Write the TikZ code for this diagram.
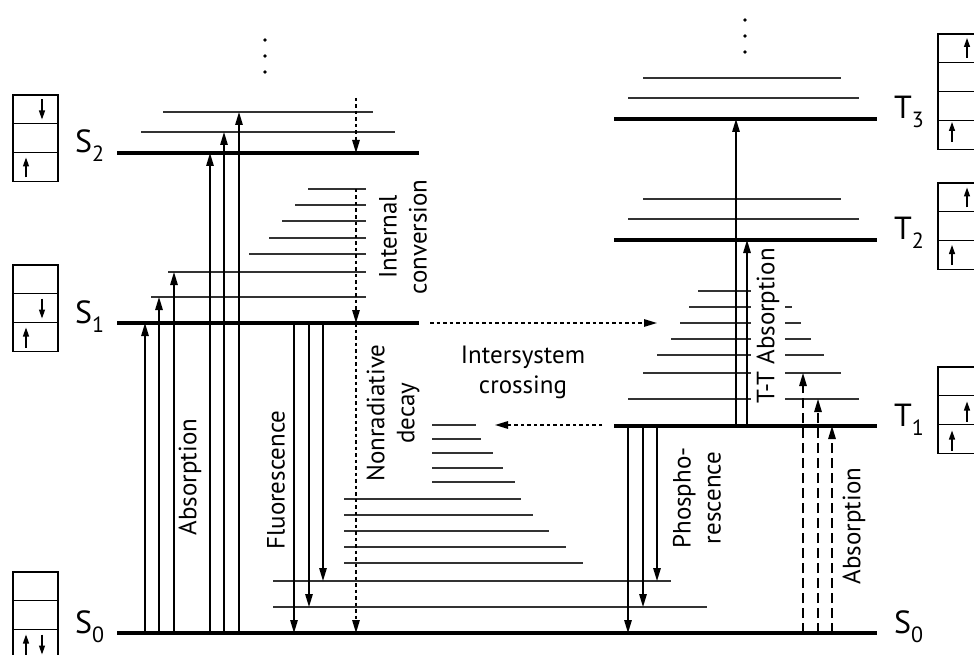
\documentclass[tikz,border=0pt]{standalone}
\usepackage{fontspec}
\setmainfont{PT Sans}
\usepackage{tikz}
\usetikzlibrary{arrows.meta}
\tikzset{
  level/.style={line width=3.4pt},
  sublevel/.style={line width=1.2pt, black!80},
  trans/.style={line width=1.4pt, -{Triangle[length=13pt,width=7.5pt]}},
  nonrad/.style={trans, dash pattern=on 3.5pt off 3pt},
  weakabs/.style={trans, dash pattern=on 10pt off 5pt},
  lbl/.style={font=\fontsize{25}{30}\selectfont, align=center, inner sep=1pt},
  statelbl/.style={font=\fontsize{32}{32}\selectfont, anchor=base west, inner sep=0pt},
  spinbox/.style={line width=1.2pt},
  spin/.style={line width=1.3pt, -{Triangle[length=9pt,width=6pt]}}
}
% estado: x, y, letra, indice
\newcommand{\estado}[4]{%
  \node[statelbl] (#3#4) at (#1,#2) {#3\raisebox{-9pt}{\fontsize{22}{22}\selectfont #4}};%
}
% caja de orbitales: x, y superior, filas
\newcommand{\orbitales}[3]{%
  \foreach \r in {1,...,#3}
    \draw[spinbox] (#1,{#2+(\r-1)*28.8}) rectangle ({#1+45},{#2+\r*28.8});%
}
\newcommand{\spinup}[2]{\draw[spin] (#1,#2+10) -- (#1,#2-10);}
\newcommand{\spindown}[2]{\draw[spin] (#1,#2-10) -- (#1,#2+10);}

\begin{document}
\begin{tikzpicture}[x=1pt, y=-1pt]
  \useasboundingbox (0,0) rectangle (974,655);
  \clip (0,0) rectangle (974,655);

  % niveles principales
  \draw[level] (117,153) -- (419,153);
  \draw[level] (117,323) -- (419,323);
  \draw[level] (117,633) -- (877,633);
  \draw[level] (614,426) -- (877,426);
  \draw[level] (614,240) -- (877,240);
  \draw[level] (614,119) -- (877,119);

  % subniveles vibracionales
  \foreach \a/\b/\y in {163/373/112, 141/395/132,
      308/366/189, 295/366/205, 282/366/221, 269/366/238, 249/366/254,
      168/366/272, 151/366/297,
      273/671/581, 273/707/607,
      432/476/425, 432/481/439, 432/493/453, 432/503/468, 432/515/482,
      344/521/499, 344/533/515, 344/549/531, 344/566/547, 344/583/563,
      643/841/78, 628/859/98, 643/841/199, 628/859/219,
      698/782/291, 689/792/307, 680/801/323, 671/811/339, 657/824/355,
      643/841/373, 628/859/399}
    \draw[sublevel] (\a,\y) -- (\b,\y);

  % puntos suspensivos
  \foreach \y in {40,56,72} \fill (265,\y) circle (1.8);
  \foreach \y in {20,36,52} \fill (745,\y) circle (1.8);

  % absorcion
  \foreach \x/\y in {145/323, 159/297, 174/272, 210/153, 224/132, 239/112}
    \draw[trans] (\x,633) -- (\x,\y);
  % fluorescencia y fosforescencia
  \foreach \x/\y in {294/633, 309/607, 323/581}
    \draw[trans] (\x,323) -- (\x,\y);
  \foreach \x/\y in {628/633, 643/607, 657/581}
    \draw[trans] (\x,426) -- (\x,\y);
  % absorcion T-T
  \draw[trans] (736,426) -- (736,119);
  \draw[trans] (747,426) -- (747,240);
  % absorcion directa al triplete
  \foreach \x/\y in {803/373, 818/399, 832/426}
    \draw[weakabs] (\x,633) -- (\x,\y);
  % conversion interna y cruce entre sistemas
  \draw[nonrad] (356,98) -- (356,153);
  \draw[nonrad] (356,189) -- (356,323);
  \draw[nonrad] (356,323) -- (356,633);
  \draw[nonrad] (430,323) -- (657,323);
  \draw[nonrad] (602,425) -- (495,425);

  % etiquetas
  \node[lbl, rotate=90] (abs1) at (190,477) {Absorption};
  \node[lbl, rotate=90] (fluo) at (276,480) {Fluorescence};
  \node[lbl, rotate=90] (nrd) at (393,413) {Nonradiative\\decay};
  \node[lbl, rotate=90] (ic) at (403,237) {Internal\\conversion};
  \node[lbl] (isc) at (523,372) {Intersystem\\crossing};
  \node[lbl, rotate=90, fill=white, inner xsep=0pt, inner ysep=6pt] (tta) at (768,326) {T-T Absorption};
  \node[lbl, rotate=90] (phos) at (697,498) {Phospho-\\rescence};
  \node[lbl, rotate=90] (abs2) at (854,526) {Absorption};

  \estado{75}{153}{S}{2}
  \estado{75}{323}{S}{1}
  \estado{75}{633}{S}{0}
  \estado{894}{119}{T}{3}
  \estado{894}{240}{T}{2}
  \estado{894}{426}{T}{1}
  \node[statelbl] (S0r) at (894,633) {S\raisebox{-9pt}{\fontsize{22}{22}\selectfont 0}};

  % cajas de orbitales
  \orbitales{13}{95}{3}
  \spindown{42}{109.5} \spinup{26}{167.5}
  \orbitales{13}{265}{3}
  \spindown{42}{308.5} \spinup{26}{337.5}
  \orbitales{13}{572}{3}
  \spinup{26}{644.5} \spindown{42}{644.5}
  \orbitales{938}{34}{4}
  \spinup{967}{48} \spinup{952}{132}
  \orbitales{938}{183}{3}
  \spinup{967}{197.5} \spinup{952}{255}
  \orbitales{938}{367}{3}
  \spinup{967}{411.5} \spinup{952}{440.5}
\end{tikzpicture}
\end{document}
